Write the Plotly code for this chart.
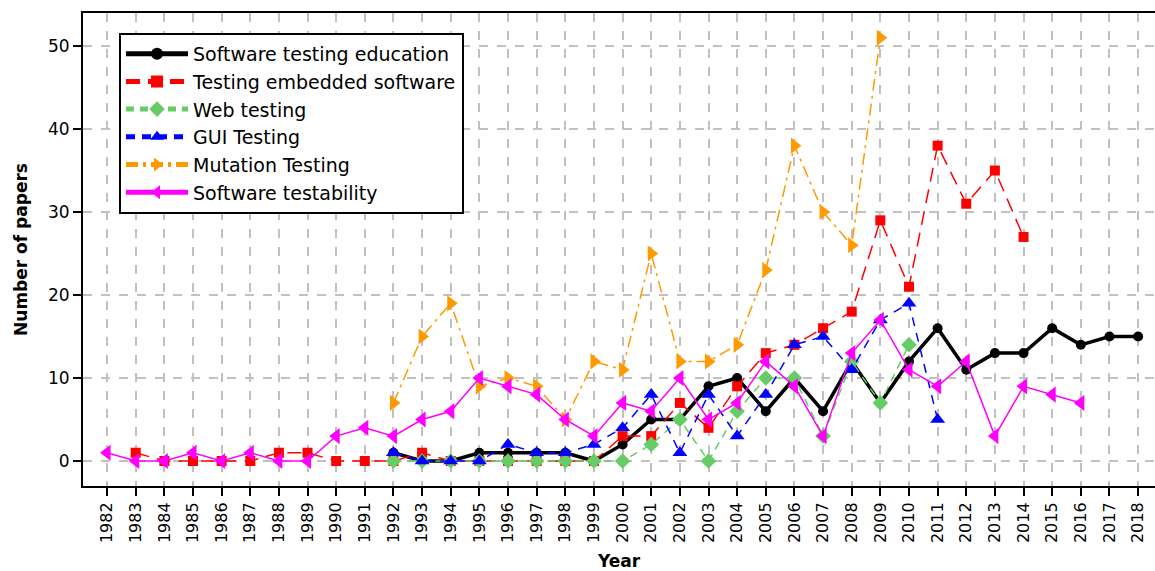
import plotly.graph_objects as go

years_all = list(range(1982, 2019))
tick_labels = [str(y) for y in years_all]

edu_years = list(range(1992, 2019))
edu_vals = [1, 0, 0, 1, 1, 1, 1, 0, 2, 5, 5, 9, 10, 6, 10, 6, 12, 7, 12, 16, 11, 13, 13, 16, 14, 15, 15]

emb_years = list(range(1983, 2015))
emb_vals = [1, 0, 0, 0, 0, 1, 1, 0, 0, 0, 1, 0, 0, 0, 0, 0, 0, 3, 3, 7, 4, 9, 13, 14, 16, 18, 29, 21, 38, 31, 35, 27]

web_years = list(range(1992, 2011))
web_vals = [0, 0, 0, 0, 0, 0, 0, 0, 0, 2, 5, 0, 6, 10, 10, 3, 12, 7, 14]

gui_years = list(range(1992, 2012))
gui_vals = [1, 0, 0, 0, 2, 1, 1, 2, 4, 8, 1, 8, 3, 8, 14, 15, 11, 17, 19, 5]

mut_years = list(range(1992, 2010))
mut_vals = [7, 15, 19, 9, 10, 9, 5, 12, 11, 25, 12, 12, 14, 23, 38, 30, 26, 51]

tst_years = list(range(1982, 2017))
tst_vals = [1, 0, 0, 1, 0, 1, 0, 0, 3, 4, 3, 5, 6, 10, 9, 8, 5, 3, 7, 6, 10, 5, 7, 12, 9, 3, 13, 17, 11, 9, 12, 3, 9, 8, 7]

FONT = "DejaVu Sans"

fig = go.Figure()

series = [
    ("Software testing education", edu_years, edu_vals, "black", "solid", 3.5, "circle", 10),
    ("Testing embedded software", emb_years, emb_vals, "#ff0000", "14px,8px", 1.5, "square", 10),
    ("Web testing", web_years, web_vals, "#66cc66", "8px,6px", 1.5, "diamond", 12),
    ("GUI Testing", gui_years, gui_vals, "#0000ff", "9px,7px", 1.5, "triangle-up", 13),
    ("Mutation Testing", mut_years, mut_vals, "#ff9900", "12px,5px,3px,5px", 1.5, "triangle-right", 14),
    ("Software testability", tst_years, tst_vals, "#ff00ff", "solid", 1.5, "triangle-left", 14),
]

for name, xs, ys, col, dash, w, sym, ms in series:
    fig.add_trace(go.Scatter(
        x=xs, y=ys, name=name, mode="lines+markers",
        line=dict(color=col, width=w, dash=dash),
        marker=dict(symbol=sym, size=ms, color=col),
    ))

fig.update_layout(
    width=1155, height=571,
    margin=dict(l=83, r=0, t=13, b=85),
    plot_bgcolor="white", paper_bgcolor="white",
    font=dict(family=FONT, size=16, color="black"),
    showlegend=True,
    legend=dict(
        x=0.0336, y=0.958, xanchor="left", yanchor="top",
        bgcolor="white", bordercolor="black", borderwidth=2,
        font=dict(family=FONT, size=19, color="black"),
        tracegroupgap=0, itemsizing="constant", itemwidth=62,
    ),
)

fig.update_xaxes(
    range=[1981.16, 2018.59],
    tickmode="array", tickvals=years_all, ticktext=tick_labels,
    tickangle=-90, tickfont=dict(size=16),
    ticks="outside", ticklen=8, tickcolor="black", tickwidth=1.5,
    showgrid=True, gridcolor="#c0c0c0", griddash="dash", gridwidth=1.5,
    showline=True, linecolor="black", linewidth=2, mirror=True,
    zeroline=False, automargin=False,
    title=dict(text="<b>Year</b>", font=dict(size=17), standoff=17),
)
fig.update_yaxes(
    range=[-3.01, 53.98],
    tickmode="array", tickvals=[0, 10, 20, 30, 40, 50],
    tickfont=dict(size=17),
    ticks="outside", ticklen=8, tickcolor="black", tickwidth=1.5,
    showgrid=True, gridcolor="#c0c0c0", griddash="dash", gridwidth=1.5,
    showline=True, linecolor="black", linewidth=2, mirror=False,
    zeroline=False, automargin=False,
    title=dict(text="<b>Number of papers</b>", font=dict(size=17), standoff=16),
)

fig.write_html(
    "out.html",
    config={"displayModeBar": False},
    post_script="document.body.style.margin='0px';document.body.style.overflow='hidden';",
)
